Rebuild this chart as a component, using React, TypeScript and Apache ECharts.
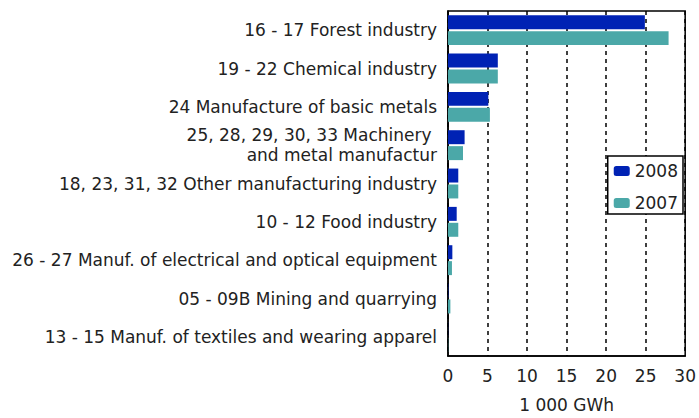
import React, { useEffect, useRef } from "react";
import * as echarts from "echarts";

const categories = [
  "16 - 17 Forest industry",
  "19 - 22 Chemical industry",
  "24 Manufacture of basic metals",
  "25, 28, 29, 30, 33 Machinery \nand metal manufactur",
  "18, 23, 31, 32 Other manufacturing industry",
  "10 - 12 Food industry",
  "26 - 27 Manuf. of electrical and optical equipment",
  "05 - 09B Mining and quarrying",
  "13 - 15 Manuf. of textiles and wearing apparel",
];
const values2008 = [24.9, 6.3, 5.1, 2.1, 1.3, 1.1, 0.55, 0.05, 0.02];
const values2007 = [27.9, 6.3, 5.3, 1.9, 1.3, 1.3, 0.5, 0.3, 0.03];
const xTicks = { min: 0, max: 30, interval: 5 };
const axisName = "1 000 GWh";

export default function App() {
  const ref = useRef<HTMLDivElement>(null);
  useEffect(() => {
    if (!ref.current) return;
    const chart = echarts.init(ref.current, null, { renderer: "svg" });
    const font = "'DejaVu Sans', sans-serif";
    const fs = 17;
    chart.setOption({
      animation: false,
      backgroundColor: "#ffffff",
      textStyle: { fontFamily: font },
      grid: {
        left: 448,
        right: 11,
        top: 11,
        bottom: 58,
        show: true,
        borderColor: "#000",
        borderWidth: 1.5,
        containLabel: false,
      },
      legend: {
        orient: "vertical",
        right: 16,
        top: 156,
        itemWidth: 16,
        itemHeight: 10,
        itemGap: 12,
        padding: [5, 5, 1, 6],
        borderColor: "#000",
        borderWidth: 1.5,
        backgroundColor: "#fff",
        textStyle: { fontSize: fs, color: "#222", fontFamily: font, lineHeight: 20 },
        data: ["2008", "2007"],
      },
      xAxis: {
        type: "value",
        min: xTicks.min,
        max: xTicks.max,
        interval: xTicks.interval,
        name: axisName,
        nameLocation: "middle",
        nameGap: 40,
        nameTextStyle: { fontSize: fs, color: "#222", fontFamily: font },
        axisLine: { show: true, lineStyle: { color: "#000", width: 1.5 } },
        axisTick: { show: false },
        axisLabel: { fontSize: fs, color: "#222", margin: 11, fontFamily: font },
        splitLine: {
          show: true,
          lineStyle: { color: "#000", type: [4, 4], width: 1.5 },
        },
      },
      yAxis: {
        type: "category",
        inverse: true,
        data: categories,
        axisLine: { show: true, lineStyle: { color: "#000", width: 1.5 } },
        axisTick: { show: false },
        axisLabel: {
          fontSize: fs,
          color: "#222",
          margin: 11,
          lineHeight: 20,
          align: "right",
          fontFamily: font,
        },
      },
      series: [
        {
          name: "2008",
          type: "bar",
          data: values2008,
          itemStyle: { color: "#0022b4" },
          barGap: "14%",
          barCategoryGap: "22%",
        },
        {
          name: "2007",
          type: "bar",
          data: values2007,
          itemStyle: { color: "#4ba8a8" },
          barGap: "14%",
          barCategoryGap: "22%",
        },
      ],
    });
    return () => chart.dispose();
  }, []);
  return (
    <div
      ref={ref}
      style={{ position: "fixed", left: 0, top: 0, width: 699, height: 418 }}
    />
  );
}
